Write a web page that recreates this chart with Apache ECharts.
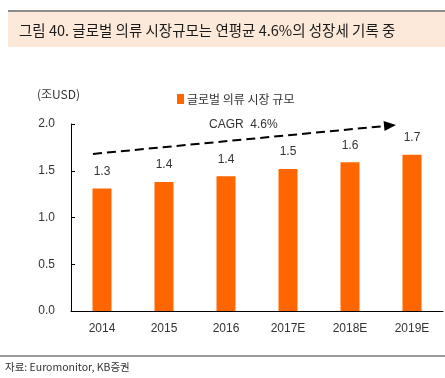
<!DOCTYPE html>
<html><head><meta charset="utf-8">
<script src="https://cdn.jsdelivr.net/npm/echarts@6/dist/echarts.min.js"></script>
<style>html,body{margin:0;padding:0;background:#fff}#c{width:445px;height:378px}</style>
</head><body><div id="c"></div>
<script>
const categories = ['2014', '2015', '2016', '2017E', '2018E', '2019E'];
const marketSize = [1.31, 1.38, 1.44, 1.52, 1.59, 1.67];
const yTicks = [0, 0.5, 1.0, 1.5, 2.0];
const seriesName = '글로벌 의류 시장 규모';
const titleText = '그림 40. 글로벌 의류 시장규모는 연평균 4.6%의 성장세 기록 중';
const unitText = '(조USD)';
const cagrText = 'CAGR  4.6%';
const sourceText = '자료: Euromonitor, KB증권';
const arrowFrom = [0, 1.68];   // category index (offset), value
const arrowTo = [5, 1.99];

const FONT = '"Liberation Sans", Arial, "Noto Sans CJK KR", sans-serif';
const KFONT = '"Noto Sans CJK KR", sans-serif';
const chart = echarts.init(document.getElementById('c'));
const option = {
  animation: false,
  textStyle: { fontFamily: FONT },
  title: {
    text: titleText, left: 14, top: 18,
    textStyle: { fontSize: 14.5, fontWeight: 'normal', color: '#1a1a1a', fontFamily: KFONT }
  },
  legend: {
    data: [seriesName], left: 172, top: 88, itemWidth: 7, itemHeight: 10, itemGap: 2,
    icon: 'rect',
    textStyle: { fontSize: 12, color: '#333', fontFamily: KFONT, padding: [0,0,0,-2] }
  },
  grid: { left: 71, right: 2, top: 124, bottom: 67 },
  xAxis: {
    type: 'category', data: categories,
    axisLine: { lineStyle: { color: '#000', width: 1 } },
    axisTick: { inside: true, length: 4, lineStyle: { color: '#000' } },
    axisLabel: { color: '#333', fontSize: 12, margin: 12, fontFamily: FONT }
  },
  yAxis: {
    type: 'value', min: yTicks[0], max: yTicks[yTicks.length - 1], interval: 0.5,
    axisLine: { show: true, lineStyle: { color: '#000' } },
    axisTick: { show: true, inside: true, length: 4, lineStyle: { color: '#000' } },
    splitLine: { show: false },
    axisLabel: { color: '#333', fontSize: 12, margin: 16, formatter: v => v.toFixed(1), fontFamily: FONT }
  },
  series: [{
    name: seriesName, type: 'bar', data: marketSize, barWidth: 19,
    itemStyle: { color: '#ff6600' },
    label: { show: true, position: 'top', distance: 11, color: '#333', fontSize: 12, fontFamily: FONT,
      formatter: p => p.value.toFixed(1) }
  }],
  graphic: [
    { type: 'rect', shape: { x: 8, y: 10, width: 437, height: 37 }, style: { fill: '#fde9d9' }, z: -10 },
    { type: 'line', shape: { x1: 8, y1: 11, x2: 445, y2: 11 }, style: { stroke: '#8c8c8c', lineWidth: 2 }, z: -9 },
    { type: 'text', left: 37, top: 88, style: { text: unitText, fontSize: 12, fill: '#333', fontFamily: KFONT } },
    { type: 'line', shape: { x1: 0, y1: 356, x2: 445, y2: 356 }, style: { stroke: '#999', lineWidth: 2 } },
    { type: 'text', left: 5, top: 362, style: { text: sourceText, fontSize: 10.5, fill: '#333', fontFamily: KFONT } }
  ]
};
chart.setOption(option);

// arrow annotation located through the chart's own scales
const p0 = chart.convertToPixel({ gridIndex: 0 }, [categories[arrowFrom[0]], arrowFrom[1]]);
const p1 = chart.convertToPixel({ gridIndex: 0 }, [categories[arrowTo[0]], arrowTo[1]]);
const x0 = p0[0] - 9, y0 = p0[1];
const x1 = p1[0] - 16, y1 = p1[1];
const ang = Math.atan2(y1 - y0, x1 - x0);
const L = 12, W = 5;
const bx = x1 - L * Math.cos(ang), by = y1 - L * Math.sin(ang);
const nx = -Math.sin(ang) * W, ny = Math.cos(ang) * W;
chart.setOption({
  graphic: option.graphic.concat([
    { type: 'line', shape: { x1: x0, y1: y0, x2: bx, y2: by }, style: { stroke: '#000', lineWidth: 2, lineDash: [9, 5] } },
    { type: 'polygon', shape: { points: [[x1, y1], [bx + nx, by + ny], [bx - nx, by - ny]] }, style: { fill: '#000' } },
    { type: 'text', left: 209, top: 119, style: { text: cagrText, fontSize: 12, fill: '#333', fontFamily: FONT } }
  ])
});
</script></body></html>
